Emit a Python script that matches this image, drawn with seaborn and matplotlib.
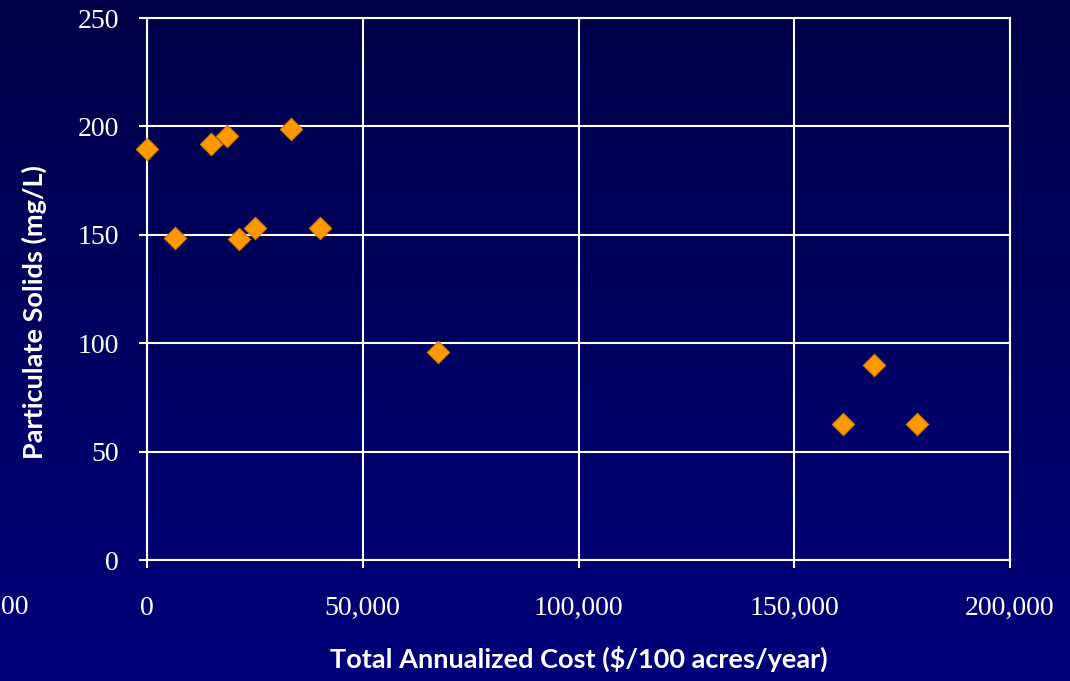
import numpy as np
import pandas as pd
import matplotlib
matplotlib.use("Agg")
import matplotlib.pyplot as plt
import seaborn as sns
from matplotlib.colors import LinearSegmentedColormap
from matplotlib.ticker import FuncFormatter

# Data
cost = [0, 6500, 14800, 18500, 21300, 25000, 33400, 40100, 67400, 161300, 168500, 178400]
solids = [189.6, 148.5, 191.9, 195.6, 148.1, 153.1, 198.8, 153.1, 95.9, 62.7, 89.9, 62.7]
x_ticks = [0, 50000, 100000, 150000, 200000]
y_ticks = [0, 50, 100, 150, 200, 250]

df = pd.DataFrame({"cost": cost, "solids": solids})

sns.set_style("white")
plt.rcParams["font.family"] = ["Liberation Serif", "DejaVu Sans"]

fig = plt.figure(figsize=(10.70, 6.81), dpi=100)

# background gradient
bg = fig.add_axes([0, 0, 1, 1], zorder=-10)
cmap = LinearSegmentedColormap.from_list("navy", ["#000048", "#00007A"])
grad = np.linspace(0, 1, 256).reshape(-1, 1)
bg.imshow(grad, aspect="auto", cmap=cmap, extent=[0, 1, 0, 1], origin="upper")
bg.axis("off")

ax = fig.add_axes([147/1070, 1 - 560/681, (1010-147)/1070, (560-18)/681])
ax.set_facecolor("none")

sns.scatterplot(data=df, x="cost", y="solids", ax=ax, marker="D", s=130,
                color="#FF9900", edgecolor="#D07800", linewidth=0.8, zorder=5,
                clip_on=False)

ax.set_xlim(0, 200000)
ax.set_ylim(0, 250)
ax.set_xticks(x_ticks)
ax.set_yticks(y_ticks)
ax.xaxis.set_major_formatter(FuncFormatter(lambda v, p: f"{int(v):,}"))

ax.grid(True, color="white", linewidth=1.5)
ax.set_axisbelow(True)
for s in ax.spines.values():
    s.set_color("white")
    s.set_linewidth(1.5)

ax.tick_params(axis="both", colors="white", labelsize=20, length=6, width=1.5,
               direction="out", bottom=True, left=True)
ax.tick_params(axis="x", pad=20)
ax.tick_params(axis="y", pad=14)

ax.set_xlabel("Total Annualized Cost ($/100 acres/year)", color="white",
              fontsize=19.5, fontweight="bold", family=["Lato", "DejaVu Sans"], labelpad=18)
ax.set_ylabel("Particulate Solids (mg/L)", color="white",
              fontsize=19.5, fontweight="bold", family=["Lato", "DejaVu Sans"], labelpad=22)
ax.yaxis.label.set_y((560 - 312) / 542)

# partially visible tick-like label at the left edge, as in reference
fig.text(0.5/1070, 1 - 607/681, "00", color="white", fontsize=20,
         ha="left", va="center", family=["Liberation Serif"])

fig.savefig("out.png", dpi=100)
